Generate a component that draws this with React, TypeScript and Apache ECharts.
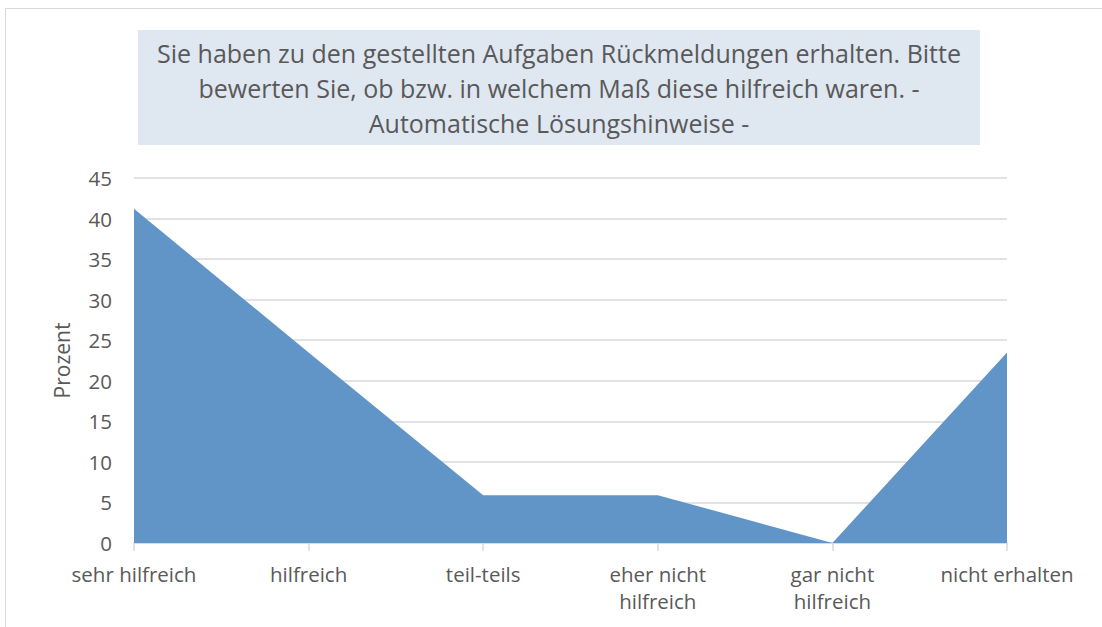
import React, { useEffect, useRef } from "react";
import * as echarts from "echarts";

const categories: string[] = [
  "sehr hilfreich",
  "hilfreich",
  "teil-teils",
  "eher nicht\nhilfreich",
  "gar nicht\nhilfreich",
  "nicht erhalten",
];
const values: number[] = [41.2, 23.5, 5.9, 5.9, 0, 23.5];
const titleLines: string[] = [
  "Sie haben zu den gestellten Aufgaben Rückmeldungen erhalten. Bitte",
  "bewerten Sie, ob bzw. in welchem Maß diese hilfreich waren. -",
  "Automatische Lösungshinweise -",
];
const yAxisName = "Prozent";
const yMin = 0;
const yMax = 45;
const yStep = 5;

const FONT = "'Open Sans', sans-serif";
const TEXT = "#595959";

export default function App() {
  const ref = useRef<HTMLDivElement>(null);
  useEffect(() => {
    if (!ref.current) return;
    const chart = echarts.init(ref.current, undefined, { renderer: "svg" });
    chart.setOption({
      animation: false,
      backgroundColor: "#ffffff",
      textStyle: { fontFamily: FONT },
      graphic: [
        {
          type: "rect",
          shape: { x: 5.5, y: 8.5, width: 1200, height: 700 },
          style: { fill: "none", stroke: "#d9d9d9", lineWidth: 1 },
          silent: true,
        },
        {
          type: "rect",
          shape: { x: 138, y: 30, width: 842, height: 115 },
          style: { fill: "#dfe7f1" },
          silent: true,
        },
        {
          type: "text",
          x: 559,
          y: 87.5,
          style: {
            text: titleLines.join("\n"),
            fill: TEXT,
            fontFamily: FONT,
            fontSize: 25,
            lineHeight: 35,
            align: "center",
            verticalAlign: "middle",
          },
          silent: true,
        },
      ],
      grid: { left: 134, right: 95, top: 178, bottom: 84, containLabel: false },
      xAxis: {
        type: "category",
        data: categories,
        boundaryGap: false,
        axisLine: { show: true, lineStyle: { color: "#d9d9d9", width: 1.5 } },
        axisTick: { show: true, length: 8, alignWithLabel: true, lineStyle: { color: "#d9d9d9", width: 1.5 } },
        axisLabel: {
          color: TEXT,
          fontSize: 20.5,
          fontFamily: FONT,
          lineHeight: 27,
          margin: 17,
          interval: 0,
        },
        splitLine: { show: false },
      },
      yAxis: {
        type: "value",
        min: yMin,
        max: yMax,
        interval: yStep,
        name: yAxisName,
        nameLocation: "middle",
        nameGap: 62,
        nameRotate: 90,
        nameTextStyle: { color: TEXT, fontSize: 21, fontFamily: FONT },
        axisLine: { show: false },
        axisTick: { show: false },
        axisLabel: { color: TEXT, fontSize: 20.5, fontFamily: FONT, margin: 22 },
        splitLine: { show: true, lineStyle: { color: "#d9d9d9", width: 1.5 } },
      },
      series: [
        {
          type: "line",
          data: values,
          symbol: "none",
          lineStyle: { width: 0 },
          areaStyle: { color: "#6195c8", opacity: 1 },
          itemStyle: { color: "#6195c8" },
        },
      ],
    });
    return () => chart.dispose();
  }, []);
  return (
    <div
      ref={ref}
      style={{ position: "fixed", left: 0, top: 0, width: 1102, height: 627 }}
    />
  );
}
